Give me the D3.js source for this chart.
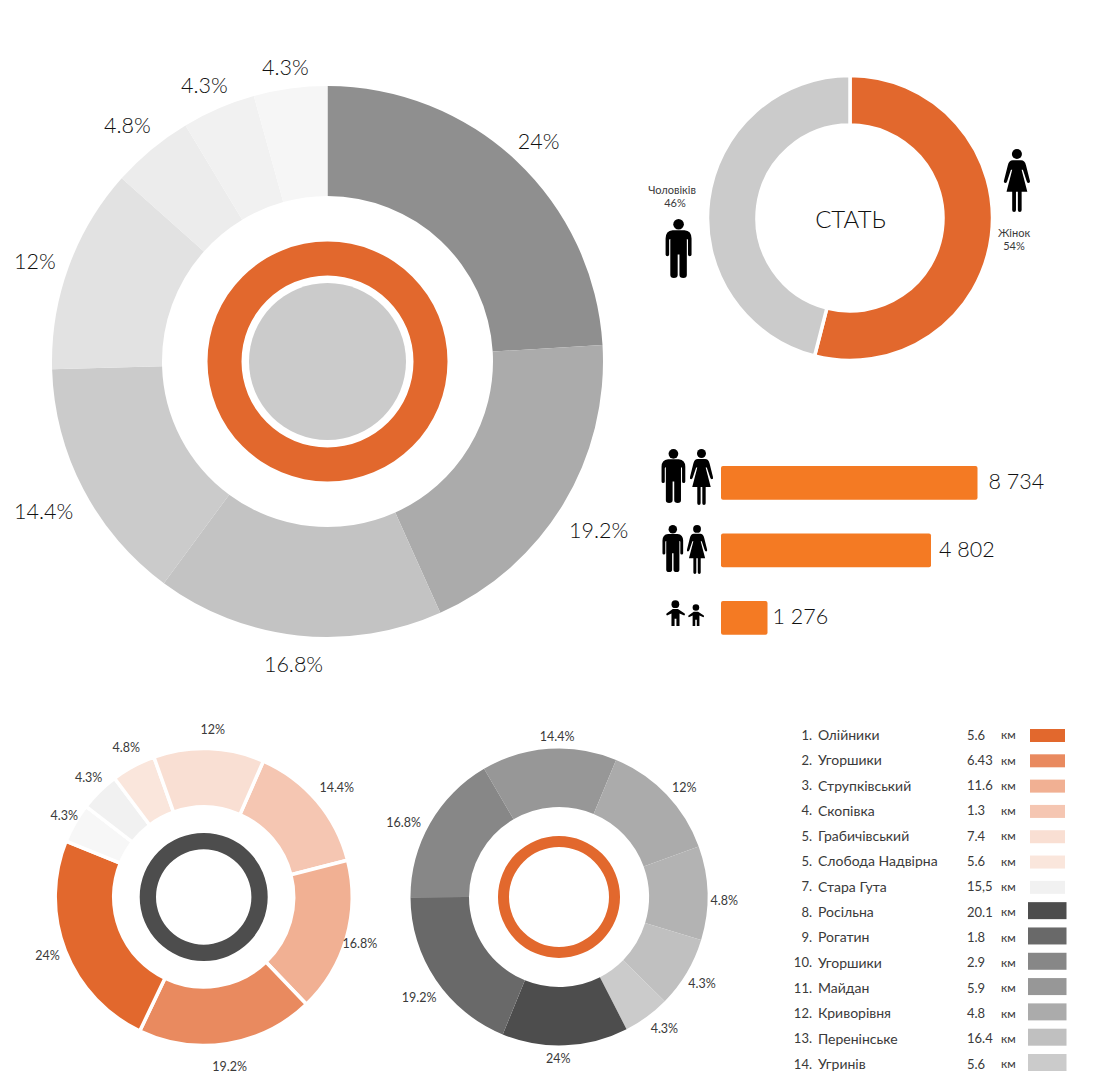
<!DOCTYPE html>
<html>
<head>
<meta charset="utf-8">
<script src="https://cdn.jsdelivr.net/npm/d3@7"></script>
<style>
body{margin:0;background:#fff;}
text{font-family:Lato,"Open Sans",sans-serif;font-weight:300;fill:#111;}
.small{font-weight:400;fill:#3a3a3a;}
</style>
</head>
<body>
<div id="chart"></div>
<script>
// values
var bigLabels=['24%','19.2%','16.8%','14.4%','12%','4.8%','4.3%','4.3%'];
var bigValues=[24,19.2,16.8,14.4,12,4.8,4.3,4.3];
var bigColors=['#8f8f8f','#ababab','#c3c3c3','#cbcbcb','#e2e2e2','#ececec','#f1f1f1','#f6f6f6'];

var orangeLabels=['14.4%','16.8%','19.2%','24%','4.3%','4.3%','4.8%','12%'];
var orangeValues=[14.4,16.8,19.2,24,4.3,4.3,4.8,12];
var orangeColors=['#f5c6b2','#f1b093','#e98a5f','#e2682d','#f7f7f7','#f1f1f1','#fae6dc','#f9dfd3'];

// the arcs of this ring are not proportional to their labels, so shares are measured separately
var greyLabels=['14.4%','12%','4.8%','4.3%','4.3%','24%','19.2%','16.8%'];
var greyShares=[14.7,13.2,10.2,7.7,5.1,13.7,18.8,16.6];
var greyColors=['#979797','#ababab','#b3b3b3','#c0c0c0','#cbcbcb','#4d4d4d','#696969','#878787'];

var genderNames=['Жінок','Чоловіків'];
var genderValues=[54,46];
var genderColors=['#e2682d','#cbcbcb'];

var barNames=['adults','working','children'];
var barValues=[8734,4802,1276];
var barLabels=['8 734','4 802','1 276'];
var barLengths=[256.5,210,46.5];

var legendNums=['1.','2.','3.','4.','5.','5.','7.','8.','9.','10.','11.','12.','13.','14.'];
var legendNames=['Олійники','Угоршики','Струпківський','Скопівка','Грабичівський','Слобода Надвірна','Стара Гута','Росільна','Рогатин','Угоршики','Майдан','Криворівня','Перенінське','Угринів'];
var legendKm=['5.6','6.43','11.6','1.3','7.4','5.6','15,5','20.1','1.8','2.9','5.9','4.8','16.4','5.6'];
var legendColors=['#e2682d','#e98a5f','#f1b093','#f5c6b2','#f9dfd3','#fae6dc','#f1f1f1','#4d4d4d','#696969','#878787','#979797','#ababab','#c0c0c0','#cbcbcb'];

// hand placement of the labels, the original ones do not sit on a clean radius
var bigNudge=[[-1,-3],[-1,14],[0,6],[-2,12],[-2,2],[-1,-6],[0,-2],[0,2]];
var orangeNudge=[[-1,-3],[-13,1],[-2,7],[3,-1],[10,0],[6,-3],[4,-5],[3,-3]];
var greyNudge=[[10,5],[1,5],[-8,8],[-6,2],[3,-2],[-8,-3],[7,8],[-2,8]];

var svg=d3.select('#chart').append('svg')
    .attr('width',1101)
    .attr('height',1082)
    .style('display','block');

// one donut with optional white gaps and labels outside the ring
function donut(opt){
    var g=svg.append('g').attr('transform',`translate(${opt.cx},${opt.cy})`);
    var start=opt.start*Math.PI/180;
    var pie=d3.pie().sort(null).startAngle(start).endAngle(start+2*Math.PI);
    var arc=d3.arc().innerRadius(opt.inner).outerRadius(opt.outer);
    var slices=pie(opt.values);
    g.selectAll('path').data(slices).enter().append('path')
        .attr('d',arc)
        .attr('fill',function(d,i){return opt.colors[i];})
        .attr('stroke',opt.gap?'#fff':'none')
        .attr('stroke-width',opt.gap||0);
    if(!opt.labels)return g;
    g.selectAll('text.lab').data(slices).enter().append('text')
        .attr('class',opt.fontSize<15?'lab small':'lab')
        .attr('font-size',opt.fontSize)
        .attr('text-anchor','middle')
        .attr('dy','.35em')
        .text(function(d,i){return opt.labels[i];})
        .each(function(d,i){
            var a=(d.startAngle+d.endAngle)/2;
            var b=this.getBBox();
            d3.select(this)
                .attr('x',Math.sin(a)*(opt.outer+opt.labelGap+b.width/2)+opt.nudge[i][0])
                .attr('y',-Math.cos(a)*(opt.outer+opt.labelGap+b.height/2.6)+opt.nudge[i][1]);
        });
    return g;
}

function ring(cx,cy,inner,outer,color){
    var arc=d3.arc().innerRadius(inner).outerRadius(outer).startAngle(0).endAngle(2*Math.PI);
    svg.append('path').attr('transform',`translate(${cx},${cy})`).attr('d',arc()).attr('fill',color);
}

donut({cx:327.5,cy:361.5,inner:165.5,outer:275.5,start:0,values:bigValues,colors:bigColors,labels:bigLabels,fontSize:21.5,labelGap:13,nudge:bigNudge});
ring(327.5,361.5,86,120,'#e2682d');
svg.append('circle').attr('cx',327.5).attr('cy',361.5).attr('r',78.5).attr('fill','#cbcbcb');

donut({cx:203.7,cy:897,inner:90,outer:148.5,start:23.7,values:orangeValues,colors:orangeColors,labels:orangeLabels,fontSize:12.5,labelGap:10,gap:3.5,nudge:orangeNudge});
ring(203.7,897,47.7,64,'#4d4d4d');

donut({cx:559,cy:897,inner:90,outer:148.5,start:329.7,values:greyShares,colors:greyColors,labels:greyLabels,fontSize:12.5,labelGap:11,nudge:greyNudge});
ring(559,897,50,61,'#e2682d');

donut({cx:850,cy:218,inner:93,outer:142.5,start:0,values:genderValues,colors:genderColors,gap:3.5});
svg.append('text').attr('x',850.5).attr('y',219).attr('dy','.36em').attr('text-anchor','middle').attr('font-size',24).text('СТАТЬ');

function smallText(x,y,t){
    svg.append('text').attr('class','small').attr('x',x).attr('y',y).attr('dy','.35em').attr('text-anchor','middle').attr('font-size',11).text(t);
}
smallText(672,190,genderNames[1]);
smallText(675,203,genderValues[1]+'%');
smallText(1014,233,genderNames[0]);
smallText(1014,246,genderValues[0]+'%');

// pictograms, drawn in a box 100 units tall
var manBody='M23 19H13Q1 20 1 33V60Q1 63 4 63Q7 63 7 60V36Q7 34 9 34V95Q9 100 15 100Q21.5 100 21.5 95V60H24.5V95Q24.5 100 31 100Q37 100 37 95V34Q39 34 39 36V60Q39 63 42 63Q45 63 45 60V33Q45 20 33 19Z';
var womanBody='M14 18Q8 18 6 26L0 50Q-1 54 2 54Q4 54 5 51L11 33H13L4 68H13V97Q13 100 16 100Q19 100 19 97V68H22V97Q22 100 25 100Q28 100 28 97V68H37L28 33H30L36 51Q37 54 39 54Q42 54 41 50L35 26Q33 18 27 18Z';
var childBody='M26 35H46L72 52Q75 57 70 60L52 52V100H40V72H33V100H21V52L4 60Q-1 57 2 52Z';
var icons={
    man:{d:manBody,hx:23,hy:9,hr:9},
    woman:{d:womanBody,hx:20.5,hy:8,hr:8},
    child:{d:childBody,hx:36,hy:16,hr:15}
};
function icon(type,x,top,height){
    var s=height/100;
    var g=svg.append('g').attr('transform',`translate(${x},${top}) scale(${s})`);
    g.append('circle').attr('cx',icons[type].hx).attr('cy',icons[type].hy).attr('r',icons[type].hr).attr('fill','#000');
    g.append('path').attr('d',icons[type].d).attr('fill','#000');
}
icon('man',665,219,59);
icon('woman',1004,149,63);
icon('man',661,449,54);
icon('woman',690,449,56);
icon('man',662,525,47);
icon('woman',687,525,49);
icon('child',666,600,26);
icon('child',688,604,22);

// bars: the lengths in the picture do not follow the numbers, the scale goes through the measured ones
var barY=d3.scaleBand().domain(barNames).range([449,651.5]).paddingInner(0.5).paddingOuter(0.25);
var barX=d3.scaleLinear().domain(barValues).range(barLengths);
var barGap=[11,8,5];
svg.selectAll('rect.bar').data(barValues).enter().append('rect')
    .attr('class','bar')
    .attr('x',721)
    .attr('y',function(d,i){return barY(barNames[i]);})
    .attr('width',function(d){return barX(d);})
    .attr('height',barY.bandwidth())
    .attr('rx',2)
    .attr('fill','#f47a23');
svg.selectAll('text.barlab').data(barValues).enter().append('text')
    .attr('class','barlab')
    .attr('x',function(d,i){return 721+barX(d)+barGap[i];})
    .attr('y',function(d,i){return barY(barNames[i])+barY.bandwidth()/2;})
    .attr('dy','.3em')
    .attr('font-size',21.5)
    .text(function(d,i){return barLabels[i];});

// legend table
var rowY=d3.scalePoint().domain(d3.range(legendNames.length)).range([735,1064]);
var rows=svg.selectAll('g.row').data(legendNames).enter().append('g')
    .attr('class','row')
    .attr('transform',function(d,i){return `translate(0,${rowY(i)})`;});
rows.append('text').attr('class','small').attr('x',812).attr('dy','.35em').attr('text-anchor','end').attr('font-size',13)
    .text(function(d,i){return legendNums[i];});
rows.append('text').attr('class','small').attr('x',818).attr('dy','.35em').attr('font-size',14)
    .text(function(d){return d;});
rows.append('text').attr('class','small').attr('x',967).attr('dy','.35em').attr('font-size',13)
    .text(function(d,i){return legendKm[i];});
rows.append('text').attr('class','small').attr('x',1001).attr('dy','.35em').attr('font-size',12)
    .text('км');
rows.append('rect')
    .attr('x',function(d,i){return i<7?1030:1028;})
    .attr('y',function(d,i){return i<7?-6:-10;})
    .attr('width',function(d,i){return i<7?35:38.5;})
    .attr('height',function(d,i){return i<7?13:17;})
    .attr('fill',function(d,i){return legendColors[i];});
</script>
</body>
</html>
